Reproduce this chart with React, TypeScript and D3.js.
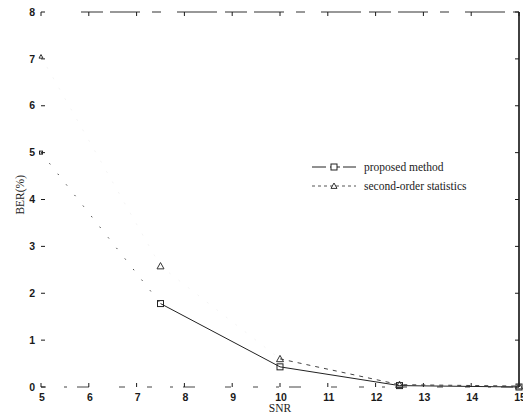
import React from "react";
import * as d3 from "d3";

// SNR points and BER(%) values
const snr = [5, 7.5, 10, 12.5, 15];
const proposed = [5.0, 1.78, 0.43, 0.03, 0.0];
const secondOrder = [7.05, 2.58, 0.6, 0.05, 0.02];
const xTicks = [5, 6, 7, 8, 9, 10, 11, 12, 13, 14, 15];
const yTicks = [0, 1, 2, 3, 4, 5, 6, 7, 8];
const legendLabels = ["proposed method", "second-order statistics"];

const W = 523;
const H = 418;

function App() {
  const x = d3.scaleLinear().domain([5, 15]).range([41, 519]);
  const y = d3.scaleLinear().domain([0, 8]).range([387, 12]);

  // line over a slice of a series, starting at snr index `from`
  const seg = (vals: number[], from: number, to: number) =>
    d3
      .line<number>()
      .x((d, i) => x(snr[i + from]))
      .y((d) => y(d))(vals.slice(from, to)) || "";

  const pts = (vals: number[]) => vals.map((v, i) => ({ sx: x(snr[i]), sy: y(v) }));

  const tri = (cx: number, cy: number, r: number) =>
    `M${cx},${cy - r}L${cx + r},${cy + r * 0.8}L${cx - r},${cy + r * 0.8}Z`;

  const ink = "#1a1a1a";
  const tickFont = "'Liberation Sans', Arial, sans-serif";
  const serif = "'Liberation Serif', 'Times New Roman', serif";

  return (
    <svg
      width={W}
      height={H}
      style={{ position: "absolute", left: 0, top: 0, background: "#fff" }}
    >
      {/* frame: scanned, so top and bottom are broken up */}
      <line x1={x(5) + 40} x2={x(15)} y1={y(8)} y2={y(8)} stroke="#333" strokeWidth={1.2} strokeDasharray="22,7,30,12,9,16,40,8" />
      <line x1={x(5)} x2={x(15)} y1={y(0)} y2={y(0)} stroke="#444" strokeWidth={1} strokeDasharray="5,18,3,10,12,30,6,22" />
      <line x1={x(15)} x2={x(15)} y1={y(8)} y2={y(0)} stroke="#111" strokeWidth={1.6} />

      {/* y ticks */}
      {yTicks.map((t) => (
        <g key={"y" + t}>
          <line x1={x(5)} x2={x(5) + 4} y1={y(t)} y2={y(t)} stroke={ink} strokeWidth={1} />
          <line x1={x(15) - 4} x2={x(15)} y1={y(t)} y2={y(t)} stroke={ink} strokeWidth={1} />
          <text x={35} y={y(t)} dy="0.35em" textAnchor="end" fontFamily={tickFont} fontSize={10.5} fontWeight={600} fill={ink}>
            {t}
          </text>
        </g>
      ))}

      {/* x ticks */}
      {xTicks.map((t) => (
        <g key={"x" + t}>
          <line x1={x(t)} x2={x(t)} y1={y(0)} y2={y(0) - 4} stroke={ink} strokeWidth={1} />
          <line x1={x(t)} x2={x(t)} y1={y(8)} y2={y(8) + 4} stroke={ink} strokeWidth={1} />
          <text x={x(t) + 1} y={401} textAnchor="middle" fontFamily={tickFont} fontSize={10.5} fontWeight={600} fill={ink}>
            {t}
          </text>
        </g>
      ))}

      <text x={x(10)} y={412} textAnchor="middle" fontFamily={serif} fontSize={11.5} fill={ink}>
        SNR
      </text>
      <text
        transform={`translate(24,${y(4.1)}) rotate(-90)`}
        textAnchor="middle"
        fontFamily={serif}
        fontSize={11.5}
        fill={ink}
      >
        BER(%)
      </text>

      {/* series lines: the scan kept little of the early segments */}
      <path d={seg(secondOrder, 0, 3)} fill="none" stroke="#ccc" strokeWidth={0.6} strokeDasharray="2,10" opacity={0.35} />
      <path d={seg(secondOrder, 2, 5)} fill="none" stroke="#444" strokeWidth={1} strokeDasharray="4,5" />
      <path d={seg(proposed, 0, 2)} fill="none" stroke="#444" strokeWidth={1} strokeDasharray="1.5,12" />
      <path d={seg(proposed, 1, 5)} fill="none" stroke="#222" strokeWidth={1} />

      {/* markers (the ones at SNR 5 survive only as specks by the axis) */}
      {pts(proposed).map((p, i) => {
        const r = i === 0 ? 1.5 : 3;
        return <rect key={"s" + i} x={p.sx - r} y={p.sy - r} width={2 * r} height={2 * r} fill="none" stroke="#222" strokeWidth={1} />;
      })}
      {pts(secondOrder).map((p, i) => (
        <path key={"t" + i} d={tri(p.sx, p.sy, i === 0 ? 2 : 3.5)} fill="none" stroke="#333" strokeWidth={1} />
      ))}

      {/* legend */}
      <g>
        <line x1={312} x2={356} y1={167} y2={167} stroke="#222" strokeWidth={1} strokeDasharray="14,4,4,3,3,3" />
        <rect x={331} y={164} width={6} height={6} fill="#fff" stroke="#222" strokeWidth={1} />
        <text x={364} y={167} dy="0.35em" fontFamily={serif} fontSize={11.5} fill={ink}>
          {legendLabels[0]}
        </text>
        <line x1={312} x2={356} y1={186} y2={186} stroke="#555" strokeWidth={1} strokeDasharray="3,3" />
        <path d={tri(334, 186, 3)} fill="#fff" stroke="#333" strokeWidth={1} />
        <text x={364} y={186} dy="0.35em" fontFamily={serif} fontSize={11.5} fill={ink}>
          {legendLabels[1]}
        </text>
      </g>
    </svg>
  );
}

export default App;
